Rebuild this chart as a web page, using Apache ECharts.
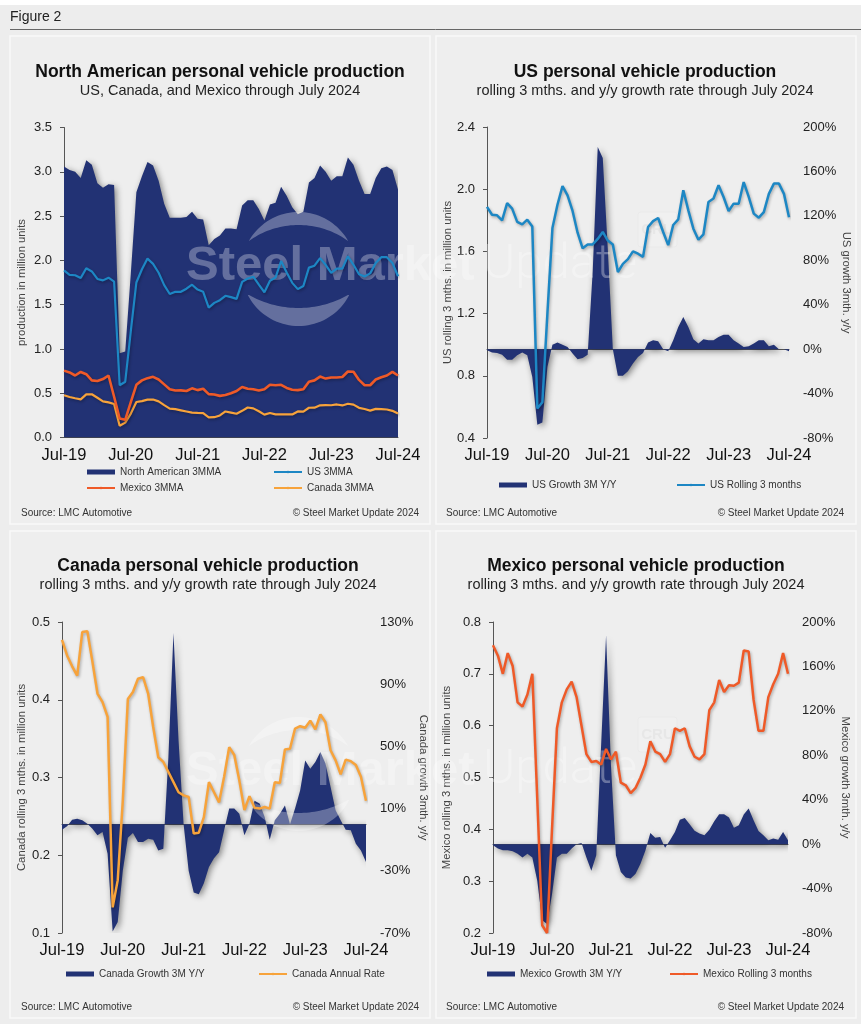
<!DOCTYPE html>
<html><head><meta charset="utf-8">
<script src="https://cdn.jsdelivr.net/npm/echarts@6/dist/echarts.min.js"></script>
<style>html,body{margin:0;padding:0;background:#fff}#c{width:861px;height:1024px}</style>
</head><body><div id="c"></div><script>
// ---------- data ----------
const monthNames = ['Jan','Feb','Mar','Apr','May','Jun','Jul','Aug','Sep','Oct','Nov','Dec'];
const months = [];
for (let k = 0; k < 61; k++) { const mi = (6 + k) % 12; const y = 19 + Math.floor((6 + k) / 12); months.push(monthNames[mi] + '-' + y); }
const xTickLabels = ['Jul-19','Jul-20','Jul-21','Jul-22','Jul-23','Jul-24'];

const naTotal = [3.06,3.02,3.0,2.93,3.13,3.08,2.87,2.82,2.86,2.85,0.95,0.97,1.85,2.77,2.95,3.11,3.07,2.9,2.64,2.48,2.48,2.48,2.49,2.55,2.47,2.46,2.17,2.24,2.28,2.36,2.36,2.35,2.62,2.68,2.68,2.58,2.45,2.63,2.65,2.83,2.73,2.6,2.52,2.55,2.88,2.93,3.07,3.0,2.9,2.95,2.95,3.16,3.08,2.9,2.75,2.75,2.93,3.04,3.06,3.02,2.8];
const usRolling = [1.886,1.836,1.832,1.80,1.91,1.875,1.79,1.774,1.804,1.76,0.59,0.63,1.20,1.75,1.90,2.02,1.96,1.86,1.72,1.62,1.645,1.645,1.68,1.725,1.67,1.645,1.467,1.52,1.55,1.60,1.585,1.565,1.757,1.795,1.815,1.725,1.64,1.77,1.806,1.993,1.864,1.746,1.675,1.71,1.918,1.94,2.025,1.95,1.86,1.907,1.907,2.046,1.95,1.843,1.817,1.853,1.97,2.036,2.036,1.97,1.82];
const mexicoRolling = [0.755,0.735,0.700,0.740,0.715,0.645,0.637,0.660,0.700,0.46,0.215,0.20,0.40,0.595,0.645,0.67,0.685,0.655,0.60,0.545,0.53,0.532,0.525,0.555,0.535,0.55,0.49,0.485,0.47,0.48,0.50,0.525,0.57,0.55,0.545,0.53,0.545,0.595,0.59,0.595,0.56,0.54,0.535,0.545,0.63,0.645,0.688,0.665,0.678,0.677,0.683,0.745,0.743,0.65,0.59,0.59,0.655,0.68,0.70,0.74,0.70];
const canadaRolling = [0.477,0.457,0.443,0.431,0.487,0.488,0.449,0.408,0.397,0.378,0.133,0.168,0.27,0.401,0.41,0.427,0.429,0.408,0.365,0.326,0.32,0.307,0.294,0.281,0.277,0.275,0.228,0.229,0.249,0.294,0.281,0.268,0.301,0.339,0.329,0.296,0.258,0.276,0.261,0.26,0.262,0.26,0.294,0.293,0.336,0.337,0.363,0.366,0.364,0.373,0.362,0.381,0.371,0.335,0.322,0.304,0.323,0.321,0.316,0.301,0.27];
const usGrowth = [-1,-3,-3.5,-5,-9.5,-9.5,-5.5,-3,-5.5,-25,-68,-66,-16,4,6,4,2,-4,-9,-8,-5,70,182,172,90,0,-24,-24,-20,-13,-7,-3.5,6,8,7,0,-2,8,20,29,20,9,5,9,8,8,11,13,13,8,5,2,2.5,5,8,8,2.5,4,0,0,-2];
const canadaGrowth = [-3.6,-1.4,2.9,3.5,2.5,0.3,-3,-7.2,-5,-19,-69,-63,-30,-8.7,-5.7,-11.5,-11.5,-9.4,-10,-17,-15.8,43,123,54,0,-30,-44,-45,-38,-27.6,-22,-18,-4,10,10,6.7,-7.2,0.3,15,13.2,4.6,-10,2.5,6.7,12,0,10,21.7,41,35.7,40,46.4,39,24,9,2.5,-3.6,-4,-12.6,-17,-24.4];
const mexicoGrowth = [-1,-4,-5.5,-5.5,-6.5,-8.6,-12,-8.6,-12,-33,-68.6,-72,-45,-12,-8.6,-8.6,-4,0,1,-12,-24,-10,90,188,70,-10,-25,-30,-31,-26.6,-17.6,-5.7,10,5.8,6.4,-3.3,3.4,11,22,23.5,18,12,9.5,8,13,20.5,27,27,24,14.8,17,26.8,32,21.4,11.8,7.9,3.4,5,4,11,3.4];

// ---------- styles ----------
const NAVY = '#223274', BLUE = '#1D87C4', RED = '#EF5A28', ORANGE = '#F7A33B';
const FONT = '"Liberation Sans", Arial, Helvetica, sans-serif';

const chart = echarts.init(document.getElementById('c'), null, {renderer: 'canvas'});

function xAxis(gi) {
  return {
    type: 'category', gridIndex: gi, data: months, boundaryGap: false,
    axisLine: {lineStyle: {color: '#555', width: 1}},
    axisTick: {show: false},
    axisLabel: {interval: (i, v) => xTickLabels.indexOf(v) >= 0, fontSize: 16.5, color: '#111', margin: 9, fontFamily: FONT},
    splitLine: {show: false}
  };
}
function leftY(gi, min, max, interval, name, gap) {
  return {
    type: 'value', gridIndex: gi, position: 'left', min, max, interval,
    name, nameLocation: 'middle', nameGap: gap,
    nameTextStyle: {fontSize: 11.3, color: '#444', fontFamily: FONT},
    axisLine: {show: true, lineStyle: {color: '#555', width: 1}},
    axisTick: {show: true, length: 4, lineStyle: {color: '#555'}},
    axisLabel: {formatter: v => v.toFixed(1), fontSize: 13, color: '#222', margin: 12, fontFamily: FONT},
    splitLine: {show: false}
  };
}
function rightY(gi, min, max, interval, name, gap) {
  return {
    type: 'value', gridIndex: gi, position: 'right', min, max, interval,
    name, nameLocation: 'middle', nameGap: gap, nameRotate: -90,
    nameTextStyle: {fontSize: 11.3, color: '#444', fontFamily: FONT},
    axisLine: {show: false}, axisTick: {show: false},
    axisLabel: {formatter: v => Math.round(v) + '%', fontSize: 13, color: '#222', margin: 14, fontFamily: FONT},
    splitLine: {show: false}
  };
}
function areaSeries(name, data, xi, yi) {
  return {name, type: 'line', xAxisIndex: xi, yAxisIndex: yi, data, symbol: 'none', showSymbol: false,
    color: NAVY, itemStyle: {color: NAVY}, lineStyle: {width: 0, color: NAVY},
    areaStyle: {color: NAVY, opacity: 1, shadowColor: 'rgba(0,0,0,0.45)', shadowBlur: 6, shadowOffsetX: 2, shadowOffsetY: 2},
    z: 1, silent: true};
}
function lineSeries(name, data, xi, yi, color, w) {
  return {name, type: 'line', xAxisIndex: xi, yAxisIndex: yi, data, symbol: 'none', showSymbol: false,
    color, itemStyle: {color},
    lineStyle: {color, width: w, shadowColor: 'rgba(0,0,0,0.3)', shadowBlur: 3, shadowOffsetX: 1, shadowOffsetY: 1.5},
    z: 3, silent: true};
}
function legendItem(name, left, cy, isArea) {
  return {data: [isArea ? {name, icon: 'rect'} : {name}], left, top: cy - 6, orient: 'horizontal',
    itemWidth: 28, itemHeight: isArea ? 5 : 3, itemGap: 0, padding: 0, selectedMode: false,
    textStyle: {fontSize: 10, color: '#333', fontFamily: FONT}};
}
function txt(x, y, text, font, fill, align) {
  return {type: 'text', x, y, z: 10, silent: true,
    style: {text, font, fill, textAlign: align || 'left', textVerticalAlign: 'middle', align: align || 'left', verticalAlign: 'middle'}};
}
function arcPts(cx, cy, r, a0, a1, n) {
  const p = [];
  for (let k = 0; k <= n; k++) { const a = a0 + (a1 - a0) * k / n; p.push([cx + r * Math.cos(a), cy + r * Math.sin(a)]); }
  return p;
}
function watermark(dy) {
  const W = 'rgba(255,255,255,0.30)';
  const up = arcPts(298.5, 269 + dy, 57, -2.627, -0.515, 40).concat(arcPts(298.5, 309.9 + dy, 84.9, -0.948, -2.194, 40));
  const lo = arcPts(298.5, 269 + dy, 57, 0.454, 2.687, 40).concat(arcPts(298.5, 207.4 + dy, 100.6, 2.106, 1.036, 40));
  return [
    {type: 'polygon', z: 2, silent: true, shape: {points: up}, style: {fill: W}},
    {type: 'polygon', z: 2, silent: true, shape: {points: lo}, style: {fill: W}},
    {type: 'text', x: 186, y: 266 + dy, z: 2, silent: true, style: {text: 'Steel Market', font: 'bold 49px ' + FONT, fill: W, textAlign: 'left', align: 'left', textVerticalAlign: 'middle', verticalAlign: 'middle'}},
    {type: 'text', x: 483, y: 266 + dy, z: 2, silent: true, style: {text: 'Update', font: '300 49px Roboto, ' + FONT, fill: 'rgba(255,255,255,0.32)', textAlign: 'left', align: 'left', textVerticalAlign: 'middle', verticalAlign: 'middle'}},
    {type: 'rect', z: 2, silent: true, shape: {x: 638, y: 212 + dy, width: 39, height: 35, r: 3}, style: {fill: 'rgba(255,255,255,0.12)', stroke: 'rgba(225,225,225,0.35)', lineWidth: 1}},
    {type: 'text', x: 657.5, y: 230 + dy, z: 2, silent: true, style: {text: 'CRU', font: 'bold 15px ' + FONT, fill: 'rgba(215,215,215,0.35)', textAlign: 'center', align: 'center', textVerticalAlign: 'middle', verticalAlign: 'middle'}}
  ];
}
function panel(x, y, w, h) {
  return {type: 'rect', z: -15, silent: true, shape: {x, y, width: w, height: h}, style: {fill: '#EEEEEE', stroke: '#F9F9F9', lineWidth: 1.5}};
}

const SUB = 'rolling 3 mths. and y/y growth rate through July 2024';
const graphics = [
  {type: 'rect', z: -20, silent: true, shape: {x: 0, y: 5, width: 861, height: 1019}, style: {fill: '#EDEDED'}},
  txt(10, 17, 'Figure 2', '14px ' + FONT, '#222'),
  {type: 'line', z: 10, silent: true, shape: {x1: 10, y1: 29.5, x2: 861, y2: 29.5}, style: {stroke: '#666', lineWidth: 1}},
  panel(10, 36, 420, 488), panel(436, 36, 420, 488), panel(10, 531, 420, 487), panel(436, 531, 420, 487),
  txt(220, 72, 'North American personal vehicle production', 'bold 17.5px ' + FONT, '#111', 'center'),
  txt(220, 91, 'US, Canada, and Mexico through July 2024', '14.5px ' + FONT, '#222', 'center'),
  txt(645, 72, 'US personal vehicle production', 'bold 17.5px ' + FONT, '#111', 'center'),
  txt(645, 91, SUB, '14.5px ' + FONT, '#222', 'center'),
  txt(208, 566, 'Canada personal vehicle production', 'bold 17.5px ' + FONT, '#111', 'center'),
  txt(208, 585, SUB, '14.5px ' + FONT, '#222', 'center'),
  txt(636, 566, 'Mexico personal vehicle production', 'bold 17.5px ' + FONT, '#111', 'center'),
  txt(636, 585, SUB, '14.5px ' + FONT, '#222', 'center'),
  txt(21, 513, 'Source: LMC Automotive', '10px ' + FONT, '#333'),
  txt(419, 513, '© Steel Market Update 2024', '10px ' + FONT, '#333', 'right'),
  txt(446, 513, 'Source: LMC Automotive', '10px ' + FONT, '#333'),
  txt(844, 513, '© Steel Market Update 2024', '10px ' + FONT, '#333', 'right'),
  txt(21, 1007, 'Source: LMC Automotive', '10px ' + FONT, '#333'),
  txt(419, 1007, '© Steel Market Update 2024', '10px ' + FONT, '#333', 'right'),
  txt(446, 1007, 'Source: LMC Automotive', '10px ' + FONT, '#333'),
  txt(844, 1007, '© Steel Market Update 2024', '10px ' + FONT, '#333', 'right')
].concat(watermark(0), watermark(505));

const option = {
  animation: false,
  backgroundColor: '#ffffff',
  textStyle: {fontFamily: FONT},
  graphic: {elements: graphics},
  grid: [
    {left: 64, top: 127.5, width: 334, height: 310},
    {left: 487, top: 127, width: 302, height: 311},
    {left: 62, top: 622, width: 304, height: 311},
    {left: 493, top: 622, width: 295, height: 311}
  ],
  xAxis: [xAxis(0), xAxis(1), xAxis(2), xAxis(3)],
  yAxis: [
    leftY(0, 0, 3.5, 0.5, 'production in million units', 37),
    leftY(1, 0.4, 2.4, 0.4, 'US rolling 3 mths. in million units', 34),
    rightY(1, -80, 200, 40, 'US growth 3mth. y/y', 50),
    leftY(2, 0.1, 0.5, 0.1, 'Canada rolling 3 mths. in million units', 35),
    rightY(2, -70, 130, 40, 'Canada growth 3mth. y/y', 47),
    leftY(3, 0.2, 0.8, 0.1, 'Mexico rolling 3 mths. in million units', 41),
    rightY(3, -80, 200, 40, 'Mexico growth 3mth. y/y', 50)
  ],
  legend: [
    legendItem('North American 3MMA', 87, 473, true),
    legendItem('US 3MMA', 273, 473, false),
    legendItem('Mexico 3MMA', 86, 489, false),
    legendItem('Canada 3MMA', 273, 489, false),
    legendItem('US Growth 3M Y/Y', 499, 486, true),
    legendItem('US Rolling 3 months', 676, 486, false),
    legendItem('Canada Growth 3M Y/Y', 66, 975, true),
    legendItem('Canada Annual Rate', 258, 975, false),
    legendItem('Mexico Growth 3M Y/Y', 487, 975, true),
    legendItem('Mexico Rolling 3 months', 669, 975, false)
  ],
  series: [
    areaSeries('North American 3MMA', naTotal, 0, 0),
    lineSeries('Canada 3MMA', canadaRolling, 0, 0, ORANGE, 2.2),
    lineSeries('Mexico 3MMA', mexicoRolling, 0, 0, RED, 2.6),
    lineSeries('US 3MMA', usRolling, 0, 0, BLUE, 2.2),
    areaSeries('US Growth 3M Y/Y', usGrowth, 1, 2),
    lineSeries('US Rolling 3 months', usRolling, 1, 1, BLUE, 2.5),
    areaSeries('Canada Growth 3M Y/Y', canadaGrowth, 2, 4),
    lineSeries('Canada Annual Rate', canadaRolling, 2, 3, ORANGE, 2.5),
    areaSeries('Mexico Growth 3M Y/Y', mexicoGrowth, 3, 6),
    lineSeries('Mexico Rolling 3 months', mexicoRolling, 3, 5, RED, 2.5)
  ]
};
chart.setOption(option);
</script></body></html>
